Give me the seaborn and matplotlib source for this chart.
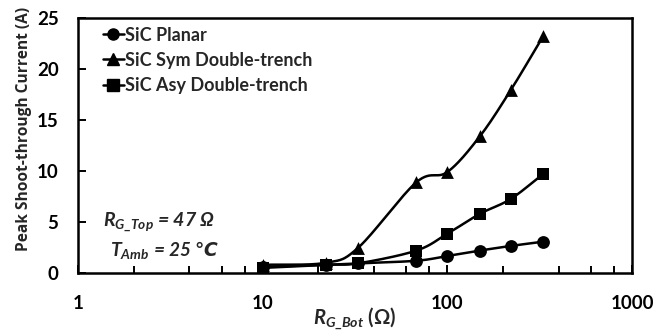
import numpy as np
import pandas as pd
import matplotlib
matplotlib.use("Agg")
import matplotlib.pyplot as plt
import seaborn as sns
from matplotlib.ticker import LogLocator, FixedLocator, NullFormatter

# ---- data ----
rg_bot = [10, 22, 33, 68, 100, 150, 220, 330]
planar = [0.6, 0.8, 0.95, 1.2, 1.67, 2.2, 2.65, 3.07]
sym_dt = [0.8, 1.0, 2.5, 8.9, 9.9, 13.4, 17.9, 23.2]
asy_dt = [0.5, 0.8, 0.95, 2.2, 3.85, 5.8, 7.25, 9.7]
series_names = ["SiC Planar", "SiC Sym Double-trench", "SiC Asy Double-trench"]
series_values = [planar, sym_dt, asy_dt]
markers = ["o", "^", "s"]
x_ticks = [1, 10, 100, 1000]
y_ticks = [0, 5, 10, 15, 20, 25]

sns.set_theme(style="white")
FONT = "Lato"
plt.rcParams["font.family"] = [FONT, "DejaVu Sans"]
plt.rcParams["font.weight"] = "bold"
plt.rcParams["mathtext.fontset"] = "custom"
plt.rcParams["mathtext.it"] = FONT + ":italic:bold"
plt.rcParams["mathtext.rm"] = FONT + ":bold"
plt.rcParams["mathtext.bf"] = FONT + ":bold"

rows = []
for name, vals in zip(series_names, series_values):
    for x, y in zip(rg_bot, vals):
        rows.append({"R": x, "I": y, "series": name})
df = pd.DataFrame(rows)

fig = plt.figure(figsize=(6.55, 3.34), dpi=100)
ax = fig.add_axes([78 / 655, 1 - 273 / 334, (632 - 78) / 655, (273 - 18) / 334])


def smooth(xs, ys, n=30):
    # Excel-like smoothed line: cubic Bezier segments in (log x, y) space
    lx = np.log10(np.asarray(xs, float))
    y = np.asarray(ys, float)
    px = np.concatenate([[2 * lx[0] - lx[1]], lx, [2 * lx[-1] - lx[-2]]])
    py = np.concatenate([[2 * y[0] - y[1]], y, [2 * y[-1] - y[-2]]])
    outx, outy = [], []
    for i in range(1, len(px) - 2):
        p0x, p1x, p2x, p3x = px[i - 1:i + 3]
        p0y, p1y, p2y, p3y = py[i - 1:i + 3]
        c1x = p1x + (p2x - p0x) / 6
        c1y = p1y + (p2y - p0y) / 6
        c2x = p2x - (p3x - p1x) / 6
        c2y = p2y - (p3y - p1y) / 6
        t = np.linspace(0, 1, n)
        bx = (1 - t) ** 3 * p1x + 3 * (1 - t) ** 2 * t * c1x + 3 * (1 - t) * t ** 2 * c2x + t ** 3 * p2x
        by = (1 - t) ** 3 * p1y + 3 * (1 - t) ** 2 * t * c1y + 3 * (1 - t) * t ** 2 * c2y + t ** 3 * p2y
        outx.append(bx)
        outy.append(by)
    return 10 ** np.concatenate(outx), np.concatenate(outy)


for name, m in zip(series_names, markers):
    sub = df[df["series"] == name]
    sx, sy = smooth(sub["R"].values, sub["I"].values)
    sns.lineplot(x=sx, y=sy, ax=ax, color="black", lw=1.8, sort=False, legend=False)
    sns.scatterplot(data=sub, x="R", y="I", ax=ax, color="black", marker=m, s=85,
                    edgecolor="black", linewidth=0, legend=False, zorder=3)

ax.set_xscale("log")
ax.set_xlim(1, 1000)
ax.set_ylim(0, 25)
ax.xaxis.set_major_locator(FixedLocator(x_ticks))
ax.set_xticklabels([str(v) for v in x_ticks])
ax.xaxis.set_minor_locator(LogLocator(base=10, subs=[2, 4, 6, 8]))
ax.xaxis.set_minor_formatter(NullFormatter())
ax.set_yticks(y_ticks)
ax.set_yticklabels([str(v) for v in y_ticks])

for s in ax.spines.values():
    s.set_color("black")
    s.set_linewidth(1.8)
ax.tick_params(axis="both", which="major", direction="in", length=6, width=1.4,
               colors="black", labelsize=13.5)
ax.tick_params(axis="y", which="major", pad=14)
ax.tick_params(axis="x", which="major", pad=16)
ax.tick_params(axis="x", which="minor", direction="in", length=5, width=1.4, colors="black")
ax.tick_params(axis="y", which="both", left=True)
ax.tick_params(axis="x", which="both", bottom=True)
for lab in ax.get_xticklabels() + ax.get_yticklabels():
    lab.set_fontweight("bold")

ax.set_ylabel("Peak Shoot-through Current (A)", fontsize=11.2, fontweight="bold",
              family=["Open Sans", "DejaVu Sans"])
ax.yaxis.set_label_coords(-0.083, 0.565)
ax.set_xlabel(r"$R_{G\_Bot}$ (Ω)", fontsize=14.5, fontweight="bold")
ax.xaxis.set_label_coords(0.5, -0.125)

handles = [plt.Line2D([], [], color="black", lw=1.8, marker=m, markersize=8)
           for m in markers]
leg = ax.legend(handles, series_names, loc="upper left", bbox_to_anchor=(0.015, 1.03),
                frameon=False, prop={"weight": "bold", "size": 13},
                handlelength=1.2, handletextpad=0.05, labelspacing=0.45)

ax.text(0.045, 0.2, r"$R_{G\_Top}$ = 47 Ω", transform=ax.transAxes, fontsize=14,
        fontweight="bold", style="italic", va="center", ha="left")
t2 = ax.text(0.058, 0.09, r"$T_{Amb}$", transform=ax.transAxes, fontsize=14,
             fontweight="bold", style="italic", va="center", ha="left")
ax.annotate(" = 25 ℃", xy=(1, 0.5), xycoords=t2, va="center", ha="left",
            fontsize=13.5, fontweight="bold", style="italic",
            family=[FONT, "DejaVu Sans"])

fig.savefig("out.png", dpi=100, facecolor="white")
